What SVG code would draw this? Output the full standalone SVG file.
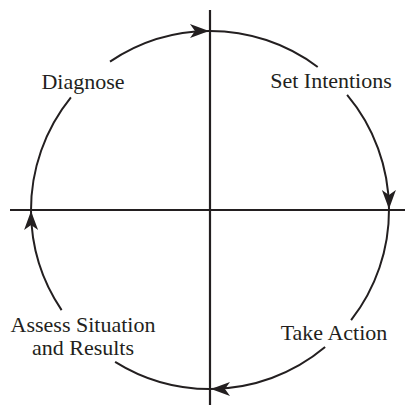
<svg xmlns="http://www.w3.org/2000/svg" width="406" height="405" viewBox="0 0 406 405">
<style>
.axis{stroke:#231f20;stroke-width:2.2;fill:none}
.arc{stroke:#231f20;stroke-width:2;fill:none}
.lbl{font-family:"Liberation Serif","Times New Roman",serif;font-size:22px;fill:#231f20;text-anchor:middle}
</style>
<defs>
<marker id="ah" markerUnits="userSpaceOnUse" viewBox="-20 -8 22 16" refX="0" refY="0" markerWidth="22" markerHeight="16" orient="auto">
<path d="M0,0 L-19,-7 L-14,0 L-19,7 Z" fill="#231f20"/>
</marker>
</defs>
<g id="axes">
<line class="axis" x1="10" y1="210" x2="405" y2="210"/>
<line class="axis" x1="210" y1="10" x2="210" y2="405"/>
</g>
<g id="connectors">
<path class="arc" d="M110,61.6 A179,179 0 0 1 209,31" marker-end="url(#ah)"/>
<path class="arc" d="M209,31 A179,179 0 0 1 317.7,67"/>
<path class="arc" d="M347.1,94.9 A179,179 0 0 1 389,209" marker-end="url(#ah)"/>
<path class="arc" d="M389,209 A179,179 0 0 1 351.1,320.2"/>
<path class="arc" d="M325.1,347.1 A179,179 0 0 1 211,389" marker-end="url(#ah)"/>
<path class="arc" d="M211,389 A179,179 0 0 1 115.1,361.8"/>
<path class="arc" d="M61.6,310.1 A179,179 0 0 1 31,211" marker-end="url(#ah)"/>
<path class="arc" d="M31,211 A179,179 0 0 1 70.9,97.4"/>
</g>
<g id="diagnose"><text class="lbl" x="83" y="89">Diagnose</text></g>
<g id="set-intentions"><text class="lbl" x="331" y="88">Set Intentions</text></g>
<g id="take-action"><text class="lbl" x="334" y="340">Take Action</text></g>
<g id="assess"><text class="lbl" x="83" y="332">Assess Situation</text><text class="lbl" x="83" y="355">and Results</text></g>
</svg>
